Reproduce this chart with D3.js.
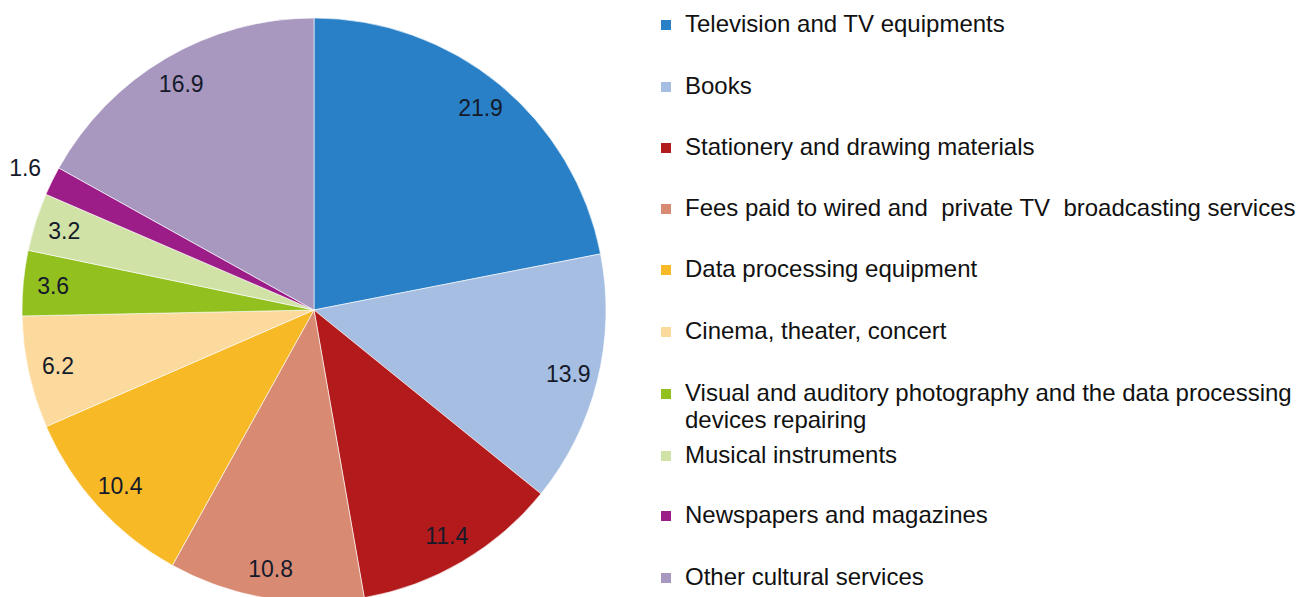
<!DOCTYPE html>
<html>
<head>
<meta charset="utf-8">
<script src="https://cdn.jsdelivr.net/npm/d3@7"></script>
<style>
  body { margin: 0; background: #fff; }
  svg { display: block; }
</style>
</head>
<body>
<svg id="chart" width="1303" height="597"></svg>
<script>
// data
let categories = [
    "Television and TV equipments",
    "Books",
    "Stationery and drawing materials",
    "Fees paid to wired and  private TV  broadcasting services",
    "Data processing equipment",
    "Cinema, theater, concert",
    "Visual and auditory photography and the data processing devices repairing",
    "Musical instruments",
    "Newspapers and magazines",
    "Other cultural services"
]
let values = [21.9, 13.9, 11.4, 10.8, 10.4, 6.2, 3.6, 3.2, 1.6, 16.9]
let colors = ["#2980c6", "#a5bee2", "#b21a1b", "#d98a73", "#f8b927",
    "#fcd99c", "#92c01f", "#d0e2a6", "#9c1c88", "#a898bf"]

let width = 1303
let height = 597
let cx = 314, cy = 310, radius = 292

let svg = d3.select("#chart")

let pie = d3.pie().sort(null).value(d => d.value)
let arcs = pie(values.map((v, i) => ({ value: v, name: categories[i], color: colors[i] })))

let arc = d3.arc().innerRadius(0).outerRadius(radius)
let labelArc = d3.arc().innerRadius(262).outerRadius(262)
let outerLabelArc = d3.arc().innerRadius(322).outerRadius(322)

let g = svg.append("g").attr("transform", "translate(" + cx + "," + cy + ")")

g.selectAll("path")
    .data(arcs)
    .enter().append("path")
    .attr("d", arc)
    .attr("fill", d => d.data.color)
    .attr("stroke", "#fff")
    .attr("stroke-width", 0.6)

// 数值标签，小扇区放外面
g.selectAll("text.lbl")
    .data(arcs)
    .enter().append("text")
    .attr("class", "lbl")
    .attr("transform", d => {
        let c = d.data.value < 2 ? outerLabelArc.centroid(d) : labelArc.centroid(d)
        return "translate(" + c[0] + "," + c[1] + ")"
    })
    .attr("text-anchor", "middle")
    .attr("dy", "0.36em")
    .style("font-family", "'Liberation Sans', Arial, sans-serif")
    .style("font-size", "23px")
    .style("fill", "#151a2a")
    .text(d => d.data.value.toFixed(1))

// legend
let legendX = 661
let rowY = [23, 85, 146, 207, 268, 330, 392, 454, 514, 576]
let wrapLines = {
    6: ["Visual and auditory photography and the data processing", "devices repairing"]
}

let legend = svg.append("g")
categories.forEach((name, i) => {
    let y = rowY[i]
    legend.append("rect")
        .attr("x", legendX)
        .attr("y", y - 3)
        .attr("width", 10)
        .attr("height", 10)
        .attr("fill", colors[i])
    let lines = wrapLines[i] || [name]
    lines.forEach((ln, j) => {
        legend.append("text")
            .attr("x", 685)
            .attr("y", y + j * 27)
            .attr("dy", "0.36em")
            .style("font-family", "'Liberation Sans', Arial, sans-serif")
            .style("font-size", "24px")
            .style("fill", "#111")
            .style("white-space", "pre")
            .text(ln)
    })
})
</script>
</body>
</html>
